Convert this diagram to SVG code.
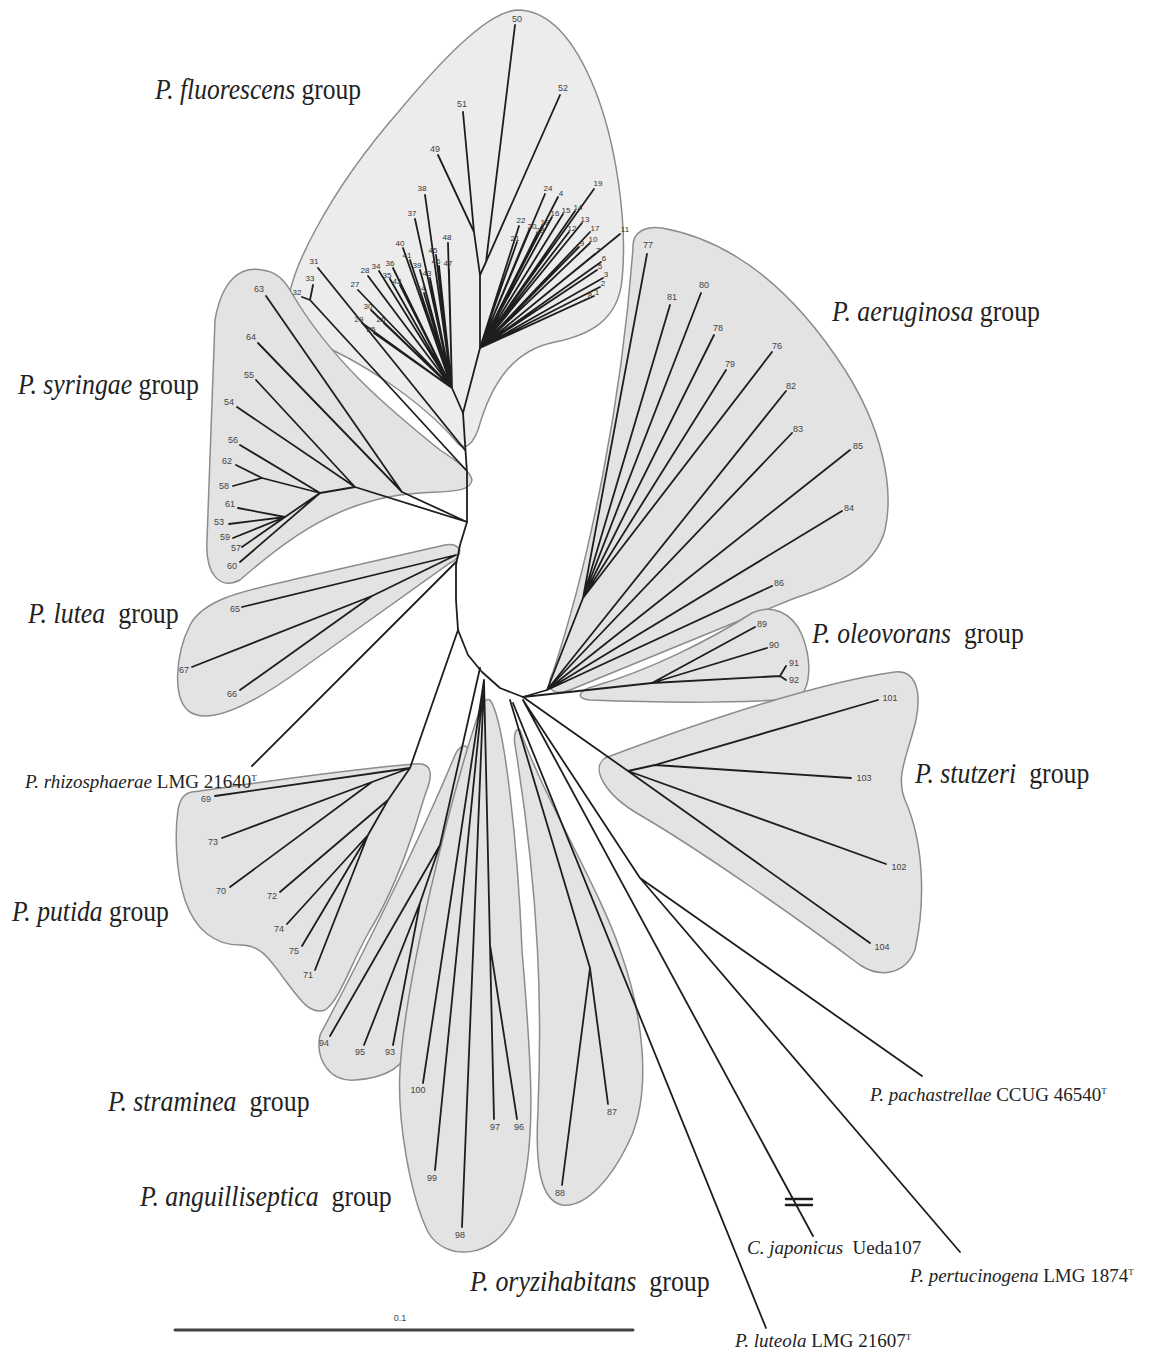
<svg xmlns="http://www.w3.org/2000/svg" width="1152" height="1360" viewBox="0 0 1152 1360">
<style>
.hull{fill:#e3e3e3;stroke:#8c8c8c;stroke-width:1.5}
.hull.light{fill:#ececec}
.br{fill:none;stroke:#1e1e1e;stroke-width:1.8;stroke-linecap:round;stroke-linejoin:round}
.lf{font-family:"Liberation Sans",Arial,sans-serif;font-size:9px;fill:#444;text-anchor:middle;dominant-baseline:central}
.lfs{font-family:"Liberation Sans",Arial,sans-serif;font-size:8px;fill:#333;text-anchor:middle;dominant-baseline:central}
.grp{font-family:"Liberation Serif","Times New Roman",serif;font-size:30px;fill:#222}
.str{font-family:"Liberation Serif","Times New Roman",serif;font-size:19px;fill:#222}
.it{font-style:italic}
</style>
<rect width="1152" height="1360" fill="#fff"/>

<!-- group hulls -->
<g id="hull-fluorescens"><path class="hull light" d="M288,318 C282,280 330,190 400,110 C450,50 490,12 517,10 C550,10 575,40 595,90 C615,140 628,220 622,280 C618,320 590,335 555,342 C515,350 492,380 478,430 C470,450 462,450 455,440 C420,400 360,360 310,340 C295,333 289,325 288,318 Z"/></g>
<g id="hull-syringae"><path class="hull" d="M262,270 C240,266 222,280 215,320 L207,540 C205,575 220,590 240,580 C280,545 330,505 400,495 C440,490 470,495 472,480 C470,470 455,460 440,450 C390,410 330,360 290,290 C282,276 272,271 262,270 Z"/></g>
<g id="hull-lutea"><path class="hull" d="M190,625 C205,597 250,590 300,578 L445,545 C462,542 465,556 450,563 L300,670 C250,706 210,725 190,712 C172,700 175,655 190,625 Z"/></g>
<g id="hull-putida"><path class="hull" d="M192,792 C250,784 340,770 415,764 C435,762 432,778 425,795 C415,830 395,890 370,930 C350,965 340,1000 325,1010 C310,1015 300,1000 285,980 C270,960 262,945 240,945 C215,945 195,930 185,900 C175,870 175,830 178,810 C180,798 185,793 192,792 Z"/></g>
<g id="hull-straminea"><path class="hull" d="M320,1035 C315,1060 330,1082 355,1080 C385,1078 405,1068 410,1045 C425,960 455,820 468,760 C472,745 462,740 455,755 C420,840 360,960 320,1035 Z"/></g>
<g id="hull-anguilliseptica"><path class="hull" d="M490,700 C505,720 518,850 522,950 C530,1050 540,1150 515,1215 C495,1260 445,1262 428,1232 C410,1195 397,1120 400,1070 C405,980 450,800 478,715 C481,703 486,698 490,700 Z"/></g>
<g id="hull-oryzihabitans"><path class="hull" d="M520,730 C545,800 600,890 620,950 C645,1020 650,1090 632,1135 C612,1180 585,1208 562,1205 C540,1200 535,1165 538,1110 C542,1010 540,900 515,745 C513,733 517,727 520,730 Z"/></g>
<g id="hull-aeruginosa"><path class="hull" d="M633,248 C632,232 645,226 662,228 C740,242 800,300 845,370 C880,425 895,485 885,530 C875,568 835,585 795,598 L570,690 C552,697 545,688 553,672 C590,560 622,400 633,248 Z"/></g>
<g id="hull-oleovorans"><path class="hull" d="M752,613 C772,604 792,612 802,635 C812,660 812,692 795,699 C720,704 640,702 590,700 C575,699 578,690 595,686 C650,670 710,640 752,613 Z"/></g>
<g id="hull-stutzeri"><path class="hull" d="M605,758 C700,722 820,682 895,672 C915,670 922,690 916,720 C908,755 895,775 905,800 C925,845 925,905 915,950 C905,975 880,978 860,965 C800,920 700,850 640,815 C605,795 590,768 605,758 Z"/></g>

<!-- connectors (branches) -->
<g id="connectors" class="br">
<path d="M463,413 L467,473 L467,522 L460,545 L456,565 L456,600 L458,630 L468,655 L482,672 L500,688 L523,697"/>
<path d="M463,413 L480,348 L480,275 L474,232 L438,155 M474,232 L463,112 M480,275 L486,262 L515,25 M486,262 L560,95"/>
<path d="M480,348 L594,296 M480,348 L600,287 M480,348 L603,278 M480,348 L558,197 M480,348 L597,270 M480,348 L601,262 M480,348 L595,254 M480,348 L587,299 M480,348 L579,247 M480,348 L590,243 M480,348 L620,234 M480,348 L569,232 M480,348 L582,223 M480,348 L575,211 M480,348 L563,214 M480,348 L552,217 M480,348 L590,232 M480,348 L542,226 M480,348 L594,189 M480,348 L529,230 M480,348 L517,242 M480,348 L519,226 M480,348 L537,234 M480,348 L545,194"/>
<path d="M463,413 L452,388 M452,388 L374,333 M452,388 L384,323 M452,388 L358,290 M452,388 L368,276 M452,388 L362,323 M452,388 L371,310 M452,388 L379,271 M452,388 L390,279 M452,388 L393,268 M452,388 L415,219 M452,388 L425,195 M452,388 L420,270 M452,388 L403,248 M452,388 L410,260 M452,388 L400,285 M452,388 L430,278 M452,388 L424,293 M452,388 L436,255 M452,388 L439,266 M452,388 L449,269 M452,388 L448,243"/>
<path d="M465,450 L318,268 M466,470 L310,300 L313,285 M310,300 L302,297"/>
<path d="M467,522 L402,492 L266,296 M402,492 L258,343 M467,522 L355,487 L256,380 M355,487 L237,407 M355,487 L320,493 L240,445 M320,493 L262,478 L236,465 M262,478 L233,486 M320,493 L285,517 L238,508 M285,517 L229,524 M285,517 L233,538 M285,517 L242,547 M320,493 L240,562"/>
<path d="M456,555 L242,607 M456,555 L372,596 L192,667 M372,596 L240,690 M456,562 L252,766"/>
<path d="M458,630 L410,768 L215,796 M410,768 L372,782 L222,838 M372,782 L230,887 M410,768 L388,800 L280,892 M388,800 L368,835 L287,924 M368,835 L302,946 M368,835 L315,970"/>
<path d="M480,668 L440,845 L330,1036 M440,845 L420,903 L364,1045 M420,903 L393,1045"/>
<path d="M484,680 L423,1083 M484,680 L435,1170 M484,680 L462,1227 M484,680 L490,945 L494,1119 M490,945 L517,1119"/>
<path d="M510,700 L590,968 L608,1104 M590,968 L562,1185"/>
<path d="M513,703 L766,1328 M523,700 L813,1236 M523,700 L640,878 L922,1076 M640,878 L960,1252"/>
<path d="M786,1199 L812,1199 M786,1205 L812,1205" stroke-width="2.5"/>
<path d="M523,697 L547,690 L583,598 L647,254 M583,598 L670,305 M583,598 L701,293 M583,598 L714,335 M583,598 L726,370 M583,598 L772,352 M547,690 L786,391 M547,690 L792,433 M547,690 L850,450 M547,690 L842,511 M547,690 L772,586"/>
<path d="M523,697 L652,683 L780,676 L786,666 M780,676 L786,680 M652,683 L755,627 M652,683 L767,648"/>
<path d="M523,697 L628,771 L870,943 M628,771 L886,864 M628,771 L655,765 L878,700 M655,765 L851,778"/>
<path d="M175,1330 L633,1330" stroke="#444" stroke-width="3"/>
</g>

<!-- leaf labels -->
<g id="leaves-fluorescens">
<g id="n50"><text class="lf" x="517" y="19">50</text></g>
<g id="n52"><text class="lf" x="563" y="88">52</text></g>
<g id="n51"><text class="lf" x="462" y="104">51</text></g>
<g id="n49"><text class="lf" x="435" y="149">49</text></g>
<g id="n1"><text class="lfs" x="597" y="292">1</text></g>
<g id="n2"><text class="lfs" x="603" y="283">2</text></g>
<g id="n3"><text class="lfs" x="606" y="274">3</text></g>
<g id="n4"><text class="lfs" x="561" y="193">4</text></g>
<g id="n5"><text class="lfs" x="600" y="266">5</text></g>
<g id="n6"><text class="lfs" x="604" y="258">6</text></g>
<g id="n7"><text class="lfs" x="598" y="250">7</text></g>
<g id="n8"><text class="lfs" x="590" y="295">8</text></g>
<g id="n9"><text class="lfs" x="582" y="243">9</text></g>
<g id="n10"><text class="lfs" x="593" y="239">10</text></g>
<g id="n11"><text class="lfs" x="625" y="229">11</text></g>
<g id="n12"><text class="lfs" x="572" y="228">12</text></g>
<g id="n13"><text class="lfs" x="585" y="219">13</text></g>
<g id="n14"><text class="lfs" x="578" y="207">14</text></g>
<g id="n15"><text class="lfs" x="566" y="210">15</text></g>
<g id="n16"><text class="lfs" x="555" y="213">16</text></g>
<g id="n17"><text class="lfs" x="595" y="228">17</text></g>
<g id="n18"><text class="lfs" x="545" y="222">18</text></g>
<g id="n19"><text class="lfs" x="598" y="183">19</text></g>
<g id="n20"><text class="lfs" x="532" y="226">20</text></g>
<g id="n21"><text class="lfs" x="515" y="238">21</text></g>
<g id="n22"><text class="lfs" x="521" y="220">22</text></g>
<g id="n23"><text class="lfs" x="540" y="230">23</text></g>
<g id="n24"><text class="lfs" x="548" y="188">24</text></g>
<g id="n25"><text class="lfs" x="371" y="329">25</text></g>
<g id="n26"><text class="lfs" x="381" y="319">26</text></g>
<g id="n27"><text class="lfs" x="355" y="284">27</text></g>
<g id="n28"><text class="lfs" x="365" y="270">28</text></g>
<g id="n29"><text class="lfs" x="359" y="319">29</text></g>
<g id="n30"><text class="lfs" x="368" y="306">30</text></g>
<g id="n31"><text class="lfs" x="314" y="261">31</text></g>
<g id="n32"><text class="lfs" x="297" y="292">32</text></g>
<g id="n33"><text class="lfs" x="310" y="278">33</text></g>
<g id="n34"><text class="lfs" x="376" y="266">34</text></g>
<g id="n35"><text class="lfs" x="387" y="275">35</text></g>
<g id="n36"><text class="lfs" x="390" y="263">36</text></g>
<g id="n37"><text class="lfs" x="412" y="213">37</text></g>
<g id="n38"><text class="lfs" x="422" y="188">38</text></g>
<g id="n39"><text class="lfs" x="417" y="265">39</text></g>
<g id="n40"><text class="lfs" x="400" y="243">40</text></g>
<g id="n41"><text class="lfs" x="407" y="255">41</text></g>
<g id="n42"><text class="lfs" x="397" y="281">42</text></g>
<g id="n43"><text class="lfs" x="427" y="273">43</text></g>
<g id="n44"><text class="lfs" x="421" y="288">44</text></g>
<g id="n45"><text class="lfs" x="433" y="250">45</text></g>
<g id="n46"><text class="lfs" x="436" y="261">46</text></g>
<g id="n47"><text class="lfs" x="448" y="263">47</text></g>
<g id="n48"><text class="lfs" x="447" y="237">48</text></g>
</g>
<g id="leaves-syringae">
<g id="n63"><text class="lf" x="259" y="289">63</text></g>
<g id="n64"><text class="lf" x="251" y="337">64</text></g>
<g id="n55"><text class="lf" x="249" y="375">55</text></g>
<g id="n54"><text class="lf" x="229" y="402">54</text></g>
<g id="n56"><text class="lf" x="233" y="440">56</text></g>
<g id="n62"><text class="lf" x="227" y="461">62</text></g>
<g id="n58"><text class="lf" x="224" y="486">58</text></g>
<g id="n61"><text class="lf" x="230" y="504">61</text></g>
<g id="n53"><text class="lf" x="219" y="522">53</text></g>
<g id="n59"><text class="lf" x="225" y="537">59</text></g>
<g id="n57"><text class="lf" x="236" y="548">57</text></g>
<g id="n60"><text class="lf" x="232" y="566">60</text></g>
</g>
<g id="leaves-lutea">
<g id="n65"><text class="lf" x="235" y="609">65</text></g>
<g id="n67"><text class="lf" x="184" y="670">67</text></g>
<g id="n66"><text class="lf" x="232" y="694">66</text></g>
</g>
<g id="leaves-putida">
<g id="n69"><text class="lf" x="206" y="799">69</text></g>
<g id="n73"><text class="lf" x="213" y="842">73</text></g>
<g id="n70"><text class="lf" x="221" y="891">70</text></g>
<g id="n72"><text class="lf" x="272" y="896">72</text></g>
<g id="n74"><text class="lf" x="279" y="929">74</text></g>
<g id="n75"><text class="lf" x="294" y="951">75</text></g>
<g id="n71"><text class="lf" x="308" y="975">71</text></g>
</g>
<g id="leaves-straminea">
<g id="n94"><text class="lf" x="324" y="1043">94</text></g>
<g id="n95"><text class="lf" x="360" y="1052">95</text></g>
<g id="n93"><text class="lf" x="390" y="1052">93</text></g>
</g>
<g id="leaves-anguilliseptica">
<g id="n100"><text class="lf" x="418" y="1090">100</text></g>
<g id="n99"><text class="lf" x="432" y="1178">99</text></g>
<g id="n98"><text class="lf" x="460" y="1235">98</text></g>
<g id="n97"><text class="lf" x="495" y="1127">97</text></g>
<g id="n96"><text class="lf" x="519" y="1127">96</text></g>
</g>
<g id="leaves-oryzihabitans">
<g id="n87"><text class="lf" x="612" y="1112">87</text></g>
<g id="n88"><text class="lf" x="560" y="1193">88</text></g>
</g>
<g id="leaves-aeruginosa">
<g id="n77"><text class="lf" x="648" y="245">77</text></g>
<g id="n81"><text class="lf" x="672" y="297">81</text></g>
<g id="n80"><text class="lf" x="704" y="285">80</text></g>
<g id="n78"><text class="lf" x="718" y="328">78</text></g>
<g id="n79"><text class="lf" x="730" y="364">79</text></g>
<g id="n76"><text class="lf" x="777" y="346">76</text></g>
<g id="n82"><text class="lf" x="791" y="386">82</text></g>
<g id="n83"><text class="lf" x="798" y="429">83</text></g>
<g id="n85"><text class="lf" x="858" y="446">85</text></g>
<g id="n84"><text class="lf" x="849" y="508">84</text></g>
<g id="n86"><text class="lf" x="779" y="583">86</text></g>
</g>
<g id="leaves-oleovorans">
<g id="n89"><text class="lf" x="762" y="624">89</text></g>
<g id="n90"><text class="lf" x="774" y="645">90</text></g>
<g id="n91"><text class="lf" x="794" y="663">91</text></g>
<g id="n92"><text class="lf" x="794" y="680">92</text></g>
</g>
<g id="leaves-stutzeri">
<g id="n101"><text class="lf" x="890" y="698">101</text></g>
<g id="n103"><text class="lf" x="864" y="778">103</text></g>
<g id="n102"><text class="lf" x="899" y="867">102</text></g>
<g id="n104"><text class="lf" x="882" y="947">104</text></g>
</g>

<!-- group labels -->
<g id="label-fluorescens"><text class="grp" transform="translate(155,99) scale(0.85,1)"><tspan class="it">P. fluorescens</tspan> group</text></g>
<g id="label-aeruginosa"><text class="grp" transform="translate(832,321) scale(0.86,1)"><tspan class="it">P. aeruginosa</tspan> group</text></g>
<g id="label-syringae"><text class="grp" transform="translate(18,394) scale(0.86,1)"><tspan class="it">P. syringae</tspan> group</text></g>
<g id="label-lutea"><text class="grp" transform="translate(28,623) scale(0.865,1)" xml:space="preserve"><tspan class="it">P. lutea</tspan>  group</text></g>
<g id="label-oleovorans"><text class="grp" transform="translate(812,643) scale(0.855,1)" xml:space="preserve"><tspan class="it">P. oleovorans</tspan>  group</text></g>
<g id="label-stutzeri"><text class="grp" transform="translate(915,783) scale(0.86,1)" xml:space="preserve"><tspan class="it">P. stutzeri</tspan>  group</text></g>
<g id="label-putida"><text class="grp" transform="translate(12,921) scale(0.855,1)"><tspan class="it">P. putida</tspan> group</text></g>
<g id="label-straminea"><text class="grp" transform="translate(108,1111) scale(0.86,1)" xml:space="preserve"><tspan class="it">P. straminea</tspan>  group</text></g>
<g id="label-anguilliseptica"><text class="grp" transform="translate(140,1206) scale(0.86,1)" xml:space="preserve"><tspan class="it">P. anguilliseptica</tspan>  group</text></g>
<g id="label-oryzihabitans"><text class="grp" transform="translate(470,1291) scale(0.863,1)" xml:space="preserve"><tspan class="it">P. oryzihabitans</tspan>  group</text></g>

<!-- single strain labels -->
<g id="label-rhizosphaerae"><text class="str" x="25" y="788"><tspan class="it">P. rhizosphaerae</tspan> LMG 21640<tspan font-size="9" dy="-7">T</tspan></text></g>
<g id="label-pachastrellae"><text class="str" x="870" y="1101"><tspan class="it">P. pachastrellae</tspan> CCUG 46540<tspan font-size="9" dy="-7">T</tspan></text></g>
<g id="label-japonicus"><text class="str" x="747" y="1254" xml:space="preserve"><tspan class="it">C. japonicus</tspan>  Ueda107</text></g>
<g id="label-pertucinogena"><text class="str" x="910" y="1282"><tspan class="it">P. pertucinogena</tspan> LMG 1874<tspan font-size="9" dy="-7">T</tspan></text></g>
<g id="label-luteola"><text class="str" x="735" y="1347"><tspan class="it">P. luteola</tspan> LMG 21607<tspan font-size="9" dy="-7">T</tspan></text></g>
<g id="label-scale"><text class="lf" x="400" y="1318">0.1</text></g>
</svg>
